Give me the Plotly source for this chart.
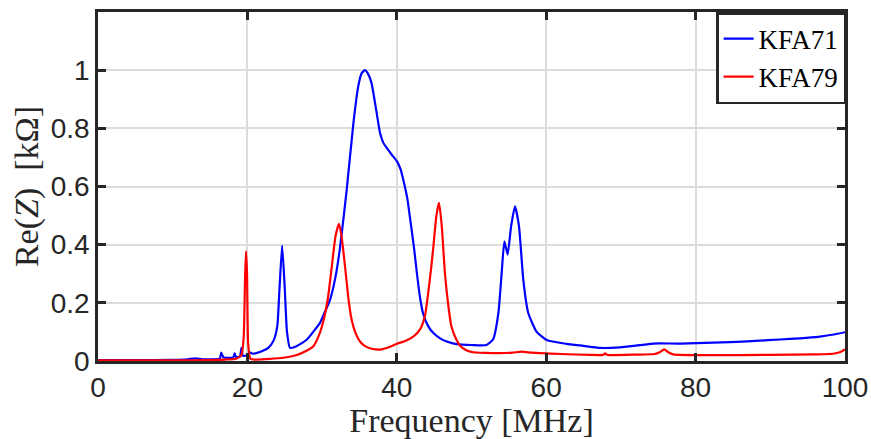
import plotly.graph_objects as go

# KFA71 (blue) – frequency [MHz] and Re(Z) [kOhm]
kfa71_f = [0, 5, 10, 12, 13, 14, 15, 16.3, 16.5, 16.8, 17.5, 18.1, 18.3, 18.5, 19.0, 19.2, 19.4,
           20.0, 20.3, 20.7, 21.3, 22.0, 22.8, 23.5, 24.0, 24.3, 24.65, 25.0, 25.3, 25.7, 26.5,
           27.0, 28.0, 28.8, 29.7, 30.4, 31.06, 31.8, 32.4, 33.3, 34.2, 34.85, 35.3, 35.74, 36.1,
           36.6, 37.2, 37.75, 38.2, 38.65, 39.3, 40.0, 40.5, 40.9, 41.4, 41.8, 42.3, 42.7, 43.1,
           43.5, 44.2, 44.9, 45.8, 46.7, 48.0, 50.0, 52.0, 52.9, 53.6, 54.04, 54.4, 54.84, 55.3,
           55.82, 56.36, 56.93, 57.6, 58.7, 60.07, 62.7, 65.0, 67.2, 69.9, 72, 74.3, 78, 84.6,
           88, 91.3, 94, 96.65, 98.5, 100]
kfa71_z = [0.003, 0.003, 0.004, 0.006, 0.009, 0.006, 0.006, 0.008, 0.029, 0.012, 0.011, 0.012,
           0.026, 0.013, 0.015, 0.045, 0.018, 0.02, 0.03, 0.025, 0.028, 0.034, 0.045, 0.07, 0.12,
           0.25, 0.397, 0.25, 0.1, 0.045, 0.05, 0.057, 0.075, 0.1, 0.13, 0.17, 0.21, 0.29, 0.39,
           0.59, 0.82, 0.946, 0.99, 1.0, 0.99, 0.957, 0.87, 0.785, 0.75, 0.733, 0.71, 0.687, 0.66,
           0.62, 0.56, 0.486, 0.39, 0.30, 0.22, 0.165, 0.12, 0.096, 0.078, 0.067, 0.058, 0.055,
           0.055, 0.075, 0.165, 0.303, 0.411, 0.366, 0.463, 0.532, 0.463, 0.28, 0.165, 0.101,
           0.072, 0.059, 0.052, 0.045, 0.047, 0.053, 0.06, 0.06, 0.065, 0.069, 0.074, 0.078,
           0.084, 0.091, 0.099]

# KFA79 (red)
kfa79_f = [0, 10, 15, 17, 18.5, 19.2, 19.5, 19.7, 19.82, 19.95, 20.1, 20.4, 21, 23, 25, 26.5,
           27.5, 28.8, 29.6, 30.2, 30.8, 31.3, 31.8, 32.26, 32.6, 33.07, 33.5, 33.96, 34.5, 35.07,
           35.7, 36.4, 37.2, 37.97, 39.0, 40.0, 41.2, 42.2, 42.8, 43.3, 43.8, 44.2, 44.6, 44.9,
           45.3, 45.65, 46.0, 46.45, 46.9, 47.3, 48.0, 48.5, 49.3, 50.2, 52, 53.8, 55.5, 56.7, 58,
           59.2, 62, 65.9, 67.6, 67.9, 68.2, 72, 74.5, 75.2, 75.8, 76.4, 77, 82, 90, 96, 98.4,
           99.3, 100]
kfa79_z = [0.002, 0.002, 0.003, 0.005, 0.008, 0.02, 0.08, 0.3, 0.377, 0.3, 0.06, 0.008, 0.005,
           0.007, 0.012, 0.02, 0.03, 0.05, 0.09, 0.14, 0.22, 0.325, 0.43, 0.472, 0.43, 0.325,
           0.22, 0.141, 0.095, 0.067, 0.052, 0.044, 0.04, 0.04, 0.048, 0.059, 0.07, 0.084, 0.098,
           0.118, 0.16, 0.233, 0.32, 0.394, 0.5, 0.544, 0.47, 0.3, 0.19, 0.12, 0.072, 0.052,
           0.037, 0.03, 0.028, 0.027, 0.029, 0.032, 0.029, 0.027, 0.024, 0.021, 0.021, 0.026,
           0.021, 0.022, 0.024, 0.03, 0.04, 0.029, 0.023, 0.02, 0.021, 0.023, 0.025, 0.03, 0.04]

x_ticks = [0, 20, 40, 60, 80, 100]
y_ticks = [0, 0.2, 0.4, 0.6, 0.8, 1]
y_tick_text = ["0", "0.2", "0.4", "0.6", "0.8", "1"]

fig = go.Figure()
fig.add_trace(go.Scatter(x=kfa71_f, y=kfa71_z, mode="lines", name="KFA71",
                         line=dict(color="#0000ff", width=2.2, shape="spline", smoothing=0.5)))
fig.add_trace(go.Scatter(x=kfa79_f, y=kfa79_z, mode="lines", name="KFA79",
                         line=dict(color="#ff0000", width=2.2, shape="spline", smoothing=0.5)))

axis_common = dict(
    showline=True, linecolor="#262626", linewidth=2.5, mirror="ticks",
    ticks="inside", ticklen=8, tickwidth=2.5, tickcolor="#262626",
    showgrid=True, gridcolor="#dcdcdc", gridwidth=2, zeroline=False, automargin=False,
    tickfont=dict(family="Liberation Sans, Arial, sans-serif", size=28, color="#262626"),
)

fig.update_xaxes(range=[0, 100], tickvals=x_ticks, **axis_common,
                 title=dict(text="Frequency [MHz]", standoff=4,
                            font=dict(family="Liberation Serif, serif", size=34, color="#262626")))
fig.update_yaxes(range=[0, 1.2], tickvals=y_ticks, ticktext=y_tick_text, **axis_common,
                 title=dict(text="Re(<i>Z</i>)  [kΩ]", standoff=2,
                            font=dict(family="Liberation Serif, serif", size=34, color="#262626")))

fig.update_layout(
    width=871, height=439,
    margin=dict(l=98, r=26, t=12, b=78),
    plot_bgcolor="white", paper_bgcolor="white",
    showlegend=True,
    legend=dict(x=1.0015, y=1, xanchor="right", yanchor="top",
                bgcolor="white", bordercolor="#262626", borderwidth=2.5,
                font=dict(family="Liberation Serif, serif", size=27, color="#000000"),
                tracegroupgap=0, itemwidth=30),
)

fig.write_html("out.html", config={"displayModeBar": False},
               post_script="document.body.style.margin='0';document.body.style.overflow='hidden';")
